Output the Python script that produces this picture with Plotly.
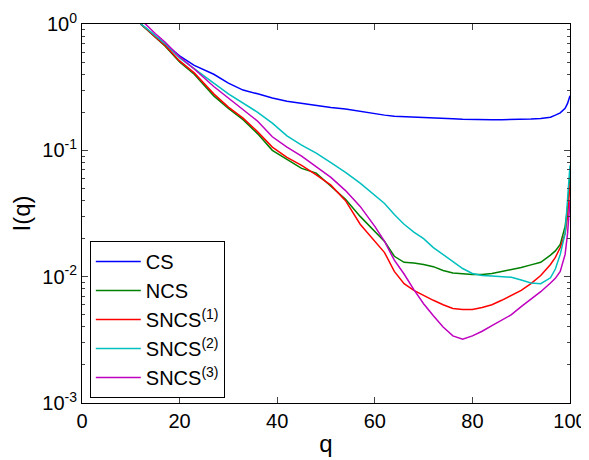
import plotly.graph_objects as go

q = [12, 13, 15, 17, 20, 23, 27, 30, 33, 36, 39, 42, 45, 48, 51, 54, 57, 60,
     62, 64, 66, 68, 70, 72, 74, 76, 78, 80, 82, 84, 86, 88, 90, 92, 94, 96,
     97, 98, 99, 99.5, 100]

cs = [1.0, 0.93, 0.80, 0.70, 0.56, 0.47, 0.40, 0.34, 0.30, 0.28, 0.26, 0.245,
      0.235, 0.225, 0.218, 0.212, 0.203, 0.195, 0.19, 0.186, 0.185, 0.184,
      0.183, 0.181, 0.179, 0.178, 0.176, 0.175, 0.175, 0.175, 0.175, 0.175,
      0.176, 0.177, 0.179, 0.183, 0.19, 0.198, 0.215, 0.235, 0.27]

ncs = [1.0, 0.92, 0.78, 0.67, 0.50, 0.40, 0.27, 0.215, 0.175, 0.135, 0.10,
       0.085, 0.072, 0.066, 0.052, 0.041, 0.030, 0.023, 0.019, 0.0145, 0.013,
       0.0128, 0.0125, 0.012, 0.0112, 0.0107, 0.0105, 0.0104, 0.0104, 0.0106,
       0.011, 0.0114, 0.0118, 0.0124, 0.013, 0.0148, 0.016, 0.018, 0.025,
       0.035, 0.065]

sncs1 = [1.0, 0.93, 0.79, 0.68, 0.51, 0.41, 0.28, 0.22, 0.18, 0.14, 0.106,
         0.088, 0.076, 0.064, 0.053, 0.040, 0.026, 0.019, 0.0155, 0.011,
         0.0088, 0.0078, 0.0071, 0.0065, 0.006, 0.0056, 0.0055, 0.0055,
         0.0057, 0.006, 0.0065, 0.0071, 0.0078, 0.0088, 0.0102, 0.0125,
         0.0142, 0.017, 0.022, 0.03, 0.055]

sncs2 = [1.0, 0.94, 0.81, 0.70, 0.54, 0.44, 0.34, 0.28, 0.235, 0.20, 0.164,
         0.13, 0.11, 0.095, 0.08, 0.067, 0.055, 0.044, 0.038, 0.031, 0.026,
         0.0225, 0.020, 0.017, 0.015, 0.0132, 0.0116, 0.0106, 0.0102, 0.0101,
         0.0100, 0.0099, 0.0094, 0.0089, 0.0088, 0.0098, 0.0115, 0.015,
         0.022, 0.04, 0.076]

sncs3 = [1.08, 1.0, 0.84, 0.72, 0.55, 0.44, 0.32, 0.26, 0.21, 0.17, 0.128,
         0.106, 0.09, 0.074, 0.061, 0.048, 0.036, 0.025, 0.019, 0.0135,
         0.0105, 0.0079, 0.0061, 0.0049, 0.004, 0.0034, 0.0032, 0.0034,
         0.0037, 0.0041, 0.0045, 0.005, 0.0058, 0.0066, 0.0076, 0.0089,
         0.0097, 0.011, 0.015, 0.022, 0.04]

names = ["CS", "NCS", "SNCS<sup>(1)</sup>", "SNCS<sup>(2)</sup>", "SNCS<sup>(3)</sup>"]
colors = ["#0000ff", "#008000", "#ff0000", "#00bfbf", "#bf00bf"]

y_major = [0.001, 0.01, 0.1, 1]
y_labels = ["10<sup>-3</sup>", "10<sup>-2</sup>", "10<sup>-1</sup>", "10<sup>0</sup>"]
# minor ticks 2..9 in each decade
y_minor = [k * d for d in [0.001, 0.01, 0.1] for k in range(2, 10)]

fig = go.Figure()
for name, ys, c in zip(names, [cs, ncs, sncs1, sncs2, sncs3], colors):
    fig.add_trace(go.Scatter(x=q, y=ys, mode="lines", name=name,
                             line=dict(color=c, width=1.5)))

axis_font = dict(family="Liberation Sans, Arial", size=20, color="black")

# page body adds 8px, so the figure is a bit smaller than the window
fig.update_layout(
    width=581, height=452,
    margin=dict(l=74, r=19, t=16, b=57),
    paper_bgcolor="white", plot_bgcolor="white",
    font=axis_font,
    legend=dict(x=0.016, y=0.013, xanchor="left", yanchor="bottom",
                bordercolor="black", borderwidth=1, bgcolor="white",
                font=axis_font, tracegroupgap=0, itemwidth=45),
    xaxis=dict(range=[0, 100], tickvals=[0, 20, 40, 60, 80, 100],
               ticks="inside", ticklen=6, showline=True, mirror="ticks",
               linecolor="black", linewidth=1, showgrid=False, zeroline=False,
               automargin=False,
               title=dict(text="q", standoff=4)),
    yaxis=dict(type="log", range=[-3, 0],
               tickvals=y_major, ticktext=y_labels,
               ticks="inside", ticklen=6, showline=True, mirror="ticks",
               linecolor="black", linewidth=1, showgrid=False, zeroline=False,
               automargin=False,
               minor=dict(tickvals=y_minor, ticks="inside", ticklen=3,
                          showgrid=False),
               title=dict(text="I(q)", standoff=4)),
)

fig.write_html("out.html")
